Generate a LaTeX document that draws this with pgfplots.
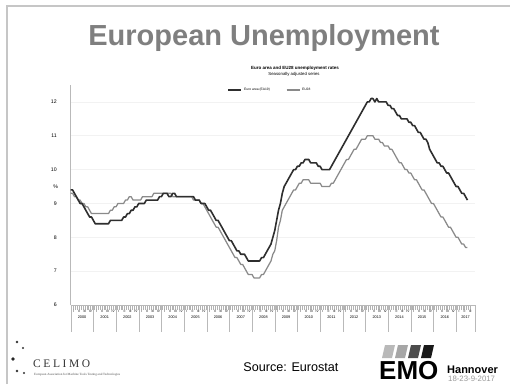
\documentclass[border=0pt]{standalone}
\usepackage{fontspec}
\setmainfont{Liberation Sans}
\newfontfamily\serifcel{Liberation Serif}
\usepackage{pgfplots}
\pgfplotsset{compat=1.18}
\usepackage{pgfplotstable}
\definecolor{titlegray}{HTML}{7F7F7F}
\definecolor{eacol}{HTML}{2E2E2E}
\definecolor{eucol}{HTML}{8A8A8A}

% Euro area (EA19), monthly Jan 2000 - Jul 2017
\pgfplotstableread[row sep=\\]{
v\\
9.4\\ 9.4\\ 9.3\\ 9.2\\ 9.1\\ 9.0\\ 9.0\\ 8.9\\ 8.8\\ 8.7\\ 8.6\\ 8.6\\
8.5\\ 8.4\\ 8.4\\ 8.4\\ 8.4\\ 8.4\\ 8.4\\ 8.4\\ 8.4\\ 8.5\\ 8.5\\ 8.5\\
8.5\\ 8.5\\ 8.5\\ 8.5\\ 8.6\\ 8.6\\ 8.7\\ 8.7\\ 8.8\\ 8.8\\ 8.9\\ 8.9\\
9.0\\ 9.0\\ 9.0\\ 9.0\\ 9.1\\ 9.1\\ 9.1\\ 9.1\\ 9.1\\ 9.1\\ 9.1\\ 9.2\\
9.2\\ 9.3\\ 9.3\\ 9.3\\ 9.2\\ 9.2\\ 9.3\\ 9.3\\ 9.2\\ 9.2\\ 9.2\\ 9.2\\
9.2\\ 9.2\\ 9.2\\ 9.2\\ 9.2\\ 9.2\\ 9.1\\ 9.1\\ 9.1\\ 9.0\\ 9.0\\ 9.0\\
8.9\\ 8.8\\ 8.8\\ 8.7\\ 8.6\\ 8.5\\ 8.5\\ 8.4\\ 8.3\\ 8.2\\ 8.1\\ 8.0\\
7.9\\ 7.9\\ 7.8\\ 7.7\\ 7.6\\ 7.6\\ 7.5\\ 7.5\\ 7.5\\ 7.4\\ 7.3\\ 7.3\\
7.3\\ 7.3\\ 7.3\\ 7.3\\ 7.3\\ 7.4\\ 7.4\\ 7.5\\ 7.6\\ 7.7\\ 7.8\\ 8.0\\
8.2\\ 8.5\\ 8.8\\ 9.0\\ 9.3\\ 9.5\\ 9.6\\ 9.7\\ 9.8\\ 9.9\\ 10.0\\ 10.0\\
10.1\\ 10.1\\ 10.2\\ 10.2\\ 10.3\\ 10.3\\ 10.3\\ 10.2\\ 10.2\\ 10.2\\ 10.2\\ 10.1\\
10.1\\ 10.0\\ 10.0\\ 10.0\\ 10.0\\ 10.0\\ 10.1\\ 10.2\\ 10.3\\ 10.4\\ 10.5\\ 10.6\\
10.7\\ 10.8\\ 10.9\\ 11.0\\ 11.1\\ 11.2\\ 11.3\\ 11.4\\ 11.5\\ 11.6\\ 11.7\\ 11.8\\
11.9\\ 12.0\\ 12.0\\ 12.1\\ 12.1\\ 12.0\\ 12.1\\ 12.0\\ 12.0\\ 12.0\\ 12.0\\ 12.0\\
11.9\\ 11.9\\ 11.8\\ 11.8\\ 11.7\\ 11.6\\ 11.6\\ 11.5\\ 11.5\\ 11.5\\ 11.5\\ 11.4\\
11.4\\ 11.3\\ 11.3\\ 11.2\\ 11.1\\ 11.1\\ 11.0\\ 10.9\\ 10.9\\ 10.8\\ 10.6\\ 10.5\\
10.4\\ 10.3\\ 10.2\\ 10.2\\ 10.1\\ 10.1\\ 10.0\\ 9.9\\ 9.9\\ 9.8\\ 9.7\\ 9.6\\
9.5\\ 9.5\\ 9.4\\ 9.3\\ 9.3\\ 9.2\\ 9.1\\
}\ea

% EU28, monthly Jan 2000 - Jul 2017
\pgfplotstableread[row sep=\\]{
v\\
9.3\\ 9.3\\ 9.2\\ 9.2\\ 9.1\\ 9.1\\ 9.0\\ 9.0\\ 8.9\\ 8.9\\ 8.8\\ 8.7\\
8.7\\ 8.7\\ 8.7\\ 8.7\\ 8.7\\ 8.7\\ 8.7\\ 8.7\\ 8.7\\ 8.8\\ 8.8\\ 8.9\\
8.9\\ 9.0\\ 9.0\\ 9.0\\ 9.0\\ 9.1\\ 9.1\\ 9.2\\ 9.2\\ 9.1\\ 9.1\\ 9.1\\
9.1\\ 9.1\\ 9.2\\ 9.2\\ 9.2\\ 9.2\\ 9.2\\ 9.2\\ 9.3\\ 9.3\\ 9.3\\ 9.3\\
9.3\\ 9.3\\ 9.3\\ 9.3\\ 9.3\\ 9.3\\ 9.2\\ 9.2\\ 9.2\\ 9.2\\ 9.2\\ 9.2\\
9.2\\ 9.2\\ 9.2\\ 9.2\\ 9.2\\ 9.1\\ 9.1\\ 9.1\\ 9.1\\ 9.0\\ 9.0\\ 8.9\\
8.8\\ 8.7\\ 8.6\\ 8.5\\ 8.4\\ 8.3\\ 8.3\\ 8.2\\ 8.1\\ 8.0\\ 7.9\\ 7.8\\
7.7\\ 7.6\\ 7.5\\ 7.4\\ 7.4\\ 7.3\\ 7.2\\ 7.2\\ 7.1\\ 7.0\\ 6.9\\ 6.9\\
6.9\\ 6.8\\ 6.8\\ 6.8\\ 6.8\\ 6.9\\ 6.9\\ 7.0\\ 7.1\\ 7.2\\ 7.3\\ 7.5\\
7.6\\ 7.9\\ 8.3\\ 8.5\\ 8.8\\ 8.9\\ 9.0\\ 9.1\\ 9.2\\ 9.3\\ 9.4\\ 9.4\\
9.5\\ 9.6\\ 9.6\\ 9.7\\ 9.7\\ 9.7\\ 9.7\\ 9.6\\ 9.6\\ 9.6\\ 9.6\\ 9.6\\
9.6\\ 9.5\\ 9.5\\ 9.5\\ 9.5\\ 9.5\\ 9.6\\ 9.6\\ 9.7\\ 9.8\\ 9.9\\ 10.0\\
10.1\\ 10.2\\ 10.3\\ 10.3\\ 10.4\\ 10.5\\ 10.6\\ 10.6\\ 10.7\\ 10.8\\ 10.9\\ 10.9\\
10.9\\ 11.0\\ 11.0\\ 11.0\\ 11.0\\ 10.9\\ 10.9\\ 10.9\\ 10.8\\ 10.8\\ 10.7\\ 10.7\\
10.7\\ 10.6\\ 10.6\\ 10.5\\ 10.4\\ 10.3\\ 10.2\\ 10.2\\ 10.1\\ 10.0\\ 10.0\\ 9.9\\
9.9\\ 9.8\\ 9.7\\ 9.7\\ 9.6\\ 9.5\\ 9.4\\ 9.4\\ 9.3\\ 9.2\\ 9.1\\ 9.0\\
9.0\\ 8.9\\ 8.8\\ 8.7\\ 8.6\\ 8.6\\ 8.5\\ 8.4\\ 8.3\\ 8.3\\ 8.2\\ 8.1\\
8.0\\ 8.0\\ 7.9\\ 7.8\\ 7.8\\ 7.7\\ 7.7\\
}\eu

\begin{document}
\begin{tikzpicture}[x=1pt,y=1pt]
\useasboundingbox (0,0) rectangle (510,384);
\fill[white] (0,0) rectangle (510,384);
% slide frame
\draw[line width=2.6pt, gray!45] (7,0) -- (7,378) -- (511,378);
% slide title
\node[anchor=base, text=titlegray, font=\fontsize{29}{32}\selectfont\bfseries, inner sep=0pt] at (264,339) {European Unemployment};
% chart title
\node[anchor=center, font=\fontsize{4.5}{5}\selectfont\bfseries, inner sep=0pt] at (295,316) {Euro area and EU28 unemployment rates};
\node[anchor=center, font=\fontsize{4.3}{5}\selectfont, inner sep=0pt] at (294,310) {Seasonally adjusted series};

\begin{axis}[
  at={(70.7pt,79pt)}, anchor=south west,
  scale only axis, width=404.3pt, height=220pt,
  xmin=0, xmax=214, ymin=6, ymax=12.5,
  axis x line=bottom, axis y line=left,
  axis line style={-, draw=gray!55, line width=1pt},
  /pgf/number format/assume math mode=true,
  ytick={6,7,8,9,10,11,12},
  ymajorgrids, grid style={gray!10, line width=0.6pt},
  y tick style={draw=none},
  yticklabel style={font=\fontsize{5.2}{6}\selectfont, xshift=-6pt},
  ylabel={\%},
  every axis y label/.style={at={(rel axis cs:0,0.536)}, anchor=center, xshift=-15pt, font=\fontsize{5.2}{6}\selectfont},
  xtick={1.5,4.5,...,211.5},
  xticklabels={I,II,III,IV,I,II,III,IV,I,II,III,IV,I,II,III,IV,I,II,III,IV,I,II,III,IV,I,II,III,IV,I,II,III,IV,I,II,III,IV,I,II,III,IV,I,II,III,IV,I,II,III,IV,I,II,III,IV,I,II,III,IV,I,II,III,IV,I,II,III,IV,I,II,III,IV,I,II,III},
  xticklabel style={font=\fontsize{3.2}{4}\selectfont, inner sep=0.8pt},
  minor x tick num=2,
  tick align=outside,
  x tick style={draw=gray!60, line width=0.35pt},
  major tick length=4.5pt, minor tick length=4.5pt,
  extra x ticks={6,18,30,42,54,66,78,90,102,114,126,138,150,162,174,186,198,209},
  extra x tick labels={2000,2001,2002,2003,2004,2005,2006,2007,2008,2009,2010,2011,2012,2013,2014,2015,2016,2017},
  extra x tick style={major tick length=0pt, xticklabel style={yshift=-9.5pt, font=\fontsize{3.8}{4.5}\selectfont}},
  clip=false,
  legend columns=2,
  reverse legend,
  legend style={at={(0.493,0.977)}, anchor=center, draw=none, fill=none,
    font=\fontsize{3.3}{4}\selectfont, inner sep=0pt,
    /tikz/every even column/.append style={column sep=14pt}},
  legend image code/.code={\draw[#1] (0pt,0pt) -- (13pt,0pt);},
]
\addplot[color=eucol, line width=1.25pt, line join=round] table[x expr=\coordindex, y=v]{\eu};
\addlegendentry{EU28}
\addplot[color=eacol, line width=1.6pt, line join=round] table[x expr=\coordindex, y=v]{\ea};
\addlegendentry{Euro area (EA19)}
\pgfplotsinvokeforeach{0,12,24,36,48,60,72,84,96,108,120,132,144,156,168,180,192,204,214}{
  \draw[gray!55, line width=0.4pt] (axis cs:#1,6) -- ++(0pt,-27pt);
}
\end{axis}

% source
\node[anchor=base, font=\fontsize{12.6}{14}\selectfont, inner sep=0pt] at (291,13) {Source: Eurostat};

% CELIMO logo
\fill[black!80] (17,42) circle (1.4);
\fill[black!80] (23,36) circle (1.1);
\fill[black!85] (13,25) circle (1.8);
\fill[black!80] (17,13) circle (1.4);
\fill[black!80] (24,11) circle (1.1);
\node[anchor=base west, font=\serifcel\fontsize{11.5}{12}\selectfont, text=black!80, inner sep=0pt] at (33,17) {C\kern2.6ptE\kern2.6ptL\kern2.6ptI\kern2.6ptM\kern2.6ptO};
\node[anchor=base west, font=\serifcel\fontsize{3.2}{4}\selectfont, text=black!70, inner sep=0pt] at (34,8.5) {European Association for Machine Tools Testing and Technologies};

% EMO Hannover logo
\fill[gray!55] (382,26) -- (392,26) -- (395,39) -- (385,39) -- cycle;
\fill[gray!70] (395,26) -- (405,26) -- (408,39) -- (398,39) -- cycle;
\fill[black!70] (408,26) -- (418,26) -- (421,39) -- (411,39) -- cycle;
\fill[black!90] (421,26) -- (431,26) -- (434,39) -- (424,39) -- cycle;
\node[anchor=base west, font=\fontsize{26}{28}\selectfont\bfseries, inner sep=0pt] at (379,5) {EMO};
\node[anchor=base west, font=\fontsize{11}{12}\selectfont\bfseries, inner sep=0pt] at (447,11) {Hannover};
\node[anchor=base west, font=\fontsize{7.8}{8}\selectfont, text=gray!80, inner sep=0pt] at (448,2.5) {18-23-9-2017};
\end{tikzpicture}
\end{document}
